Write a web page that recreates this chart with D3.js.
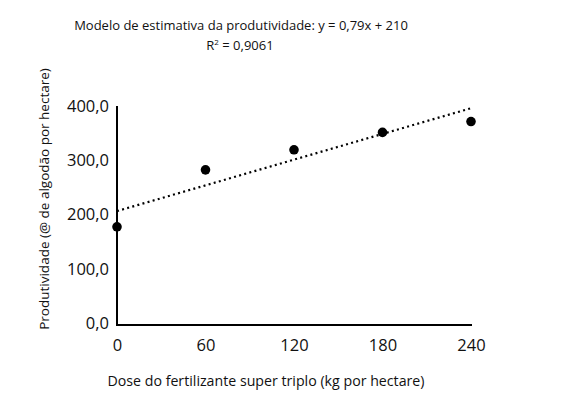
<!DOCTYPE html>
<html><head><meta charset="utf-8">
<script src="https://cdn.jsdelivr.net/npm/d3@7"></script>
<style>body{margin:0;background:#fff;} text{font-family:"Open Sans",sans-serif;fill:#111;}</style>
</head><body>
<svg id="c" width="581" height="414"></svg>
<script>
const doses = [0, 60, 120, 180, 240];
const productivity = [181, 286, 323, 355, 375];
const xTicks = [0, 60, 120, 180, 240];
const yTicks = [0, 100, 200, 300, 400];
const trendSlope = 0.79, trendIntercept = 210;
const titleLine1 = "Modelo de estimativa da produtividade: y = 0,79x + 210";
const xTitle = "Dose do fertilizante super triplo (kg por hectare)";
const yTitle = "Produtividade (@ de algodão por hectare)";

const svg = d3.select("#c");
const x = d3.scaleLinear().domain([0, 240]).range([117, 471]);
const y = d3.scaleLinear().domain([0, 400]).range([325, 108]);
const fmt = v => d3.format(".1f")(v).replace(".", ",");

// title
svg.append("text").attr("x", 241).attr("y", 30).attr("text-anchor", "middle")
  .style("font-size", "13px").text(titleLine1);
const r2 = svg.append("text").attr("x", 240).attr("y", 50).attr("text-anchor", "middle").style("font-size", "13px");
r2.append("tspan").text("R");
r2.append("tspan").attr("dy", -5).style("font-size", "8px").text("2");
r2.append("tspan").attr("dy", 5).text(" = 0,9061");

// axes
const yAxis = svg.append("g").attr("transform", `translate(${x(0)},0)`)
  .call(d3.axisLeft(y).tickValues(yTicks).tickSize(0).tickPadding(8).tickFormat(fmt));
yAxis.select(".domain").attr("stroke", "#000").attr("stroke-width", 2).attr("d", `M0,${y(0)}V${y(400)-2}`);
yAxis.selectAll("text").style("font-size", "16.5px").attr("dy", "0.2em");

const xAxis = svg.append("g").attr("transform", `translate(0,${y(0)})`)
  .call(d3.axisBottom(x).tickValues(xTicks).tickSize(0).tickPadding(14).tickFormat(d3.format("d")));
xAxis.select(".domain").attr("stroke", "#000").attr("stroke-width", 2).attr("d", `M${x(0)-1},0H${x(240)+1}`);
xAxis.selectAll("text").style("font-size", "16.5px");

// axis titles
svg.append("text").attr("x", 266).attr("y", 386).attr("text-anchor", "middle")
  .style("font-size", "14.2px").text(xTitle);
svg.append("text").attr("transform", "translate(49,199) rotate(-90)").attr("text-anchor", "middle")
  .style("font-size", "13.5px").text(yTitle);

// trend line
svg.append("line")
  .attr("x1", x(0)).attr("y1", y(trendIntercept))
  .attr("x2", x(240)).attr("y2", y(trendSlope * 240 + trendIntercept))
  .attr("stroke", "#000").attr("stroke-width", 2.2).attr("stroke-dasharray", "2 3.3");

// points
svg.selectAll("circle.pt").data(doses).enter().append("circle").attr("class", "pt")
  .attr("cx", d => x(d)).attr("cy", (d, i) => y(productivity[i])).attr("r", 4.8).attr("fill", "#000");
</script>
</body></html>
